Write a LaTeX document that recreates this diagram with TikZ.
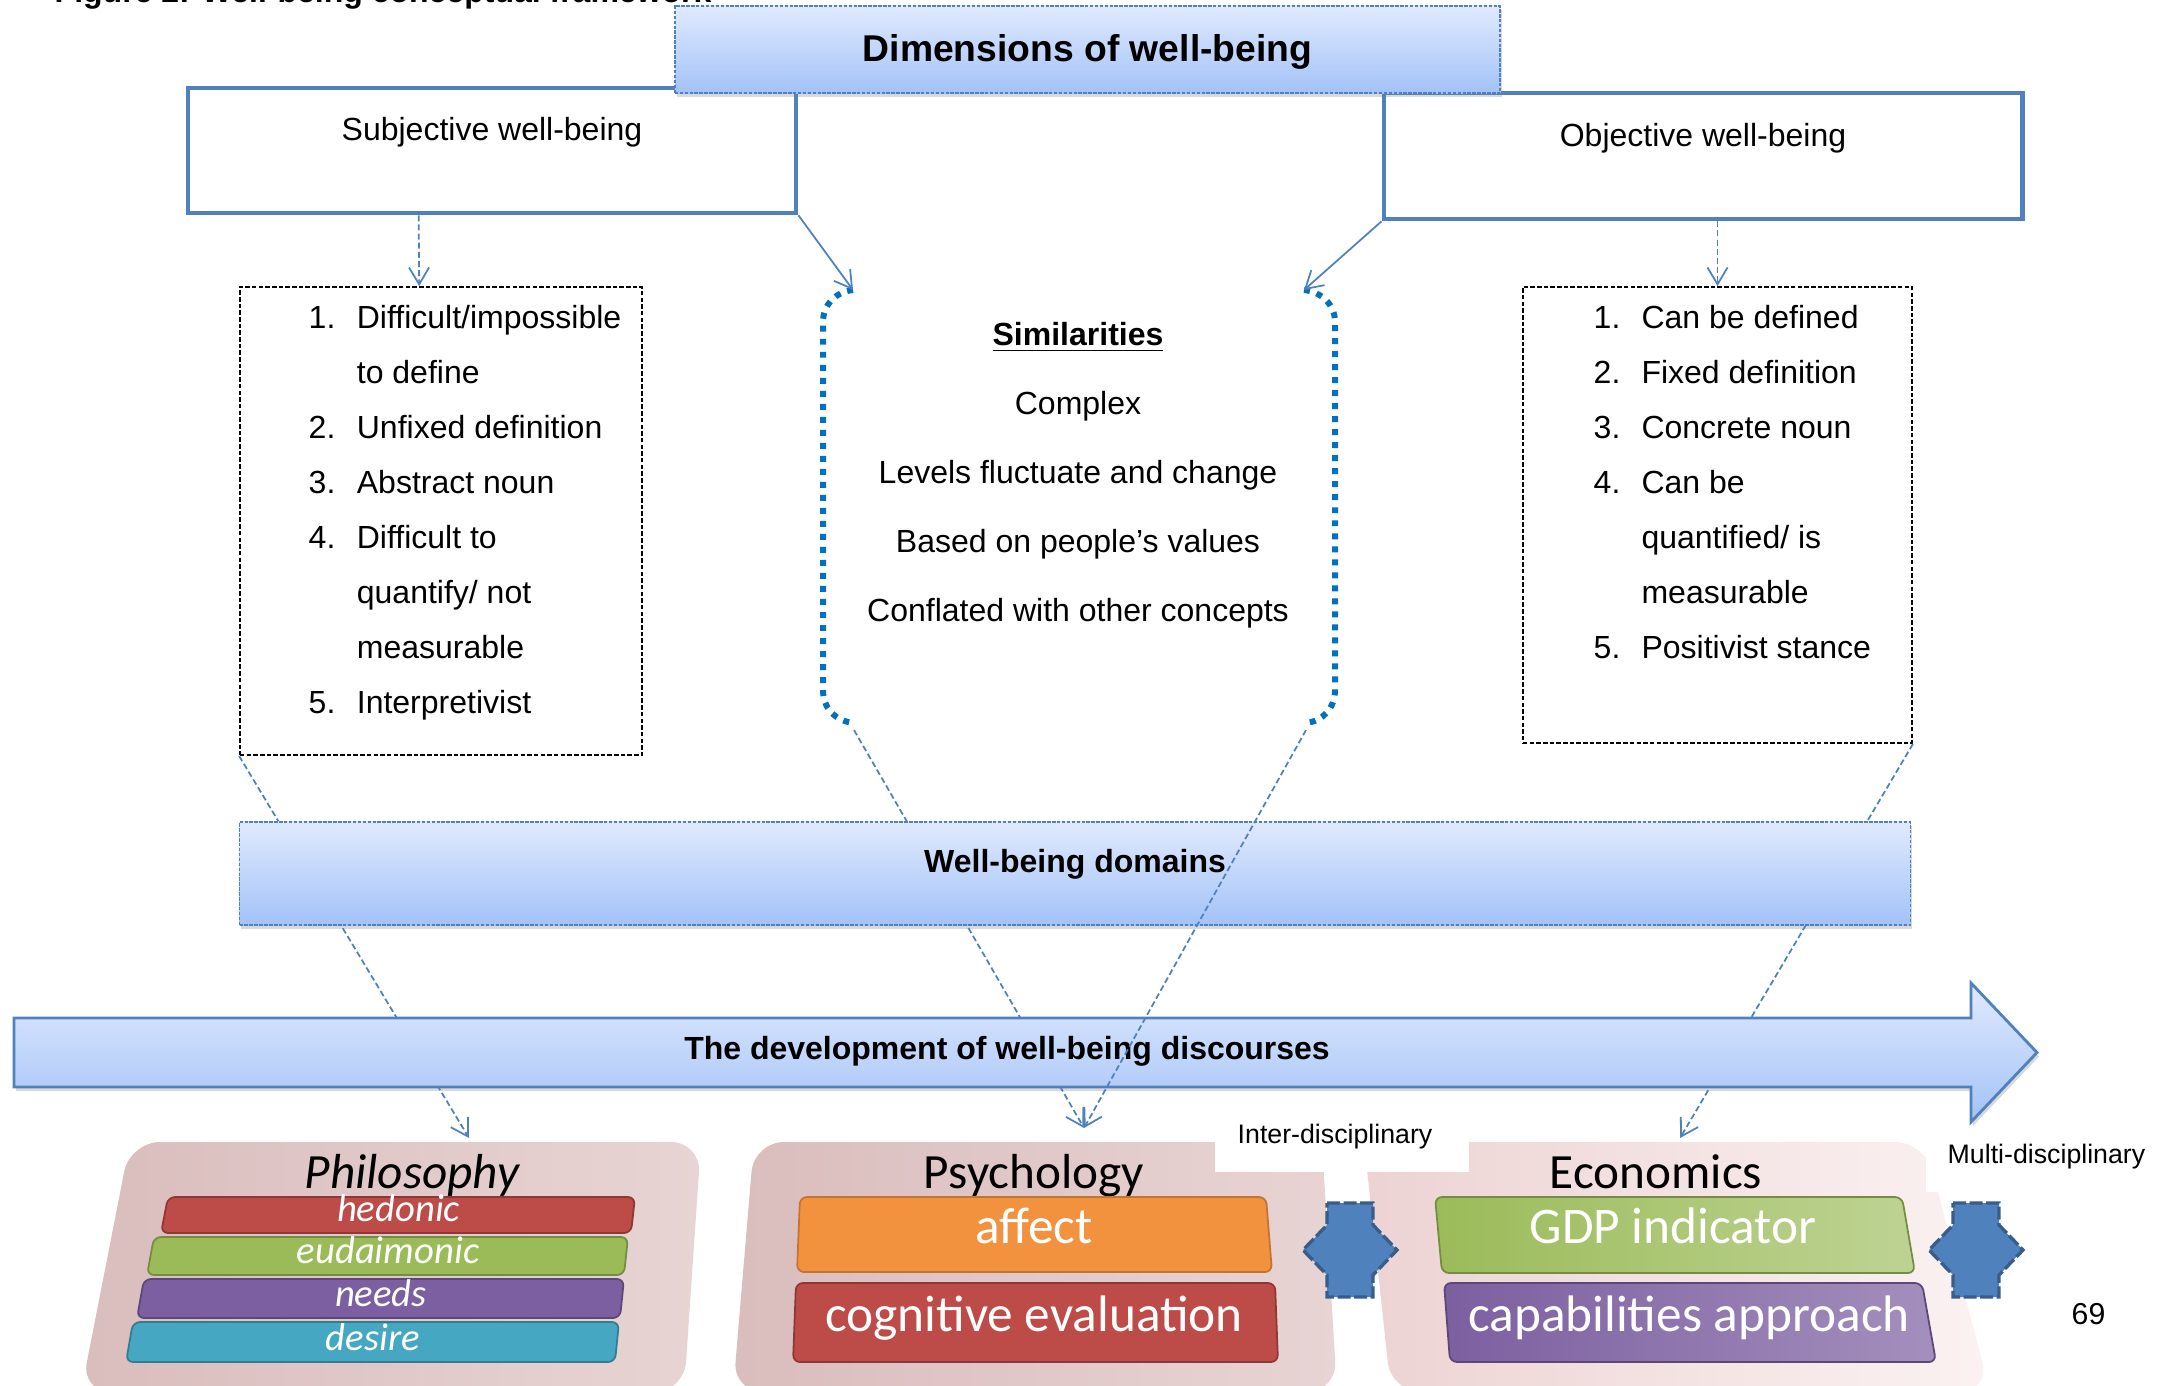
\documentclass[tikz,border=0pt]{standalone}
\usepackage{fontspec}
\setmainfont{Liberation Sans}
\newfontfamily\calibri{Carlito}
\usetikzlibrary{arrows.meta,shadows}

\definecolor{bleu}{HTML}{4F81BD}
\definecolor{bleufonce}{HTML}{385D8A}
\definecolor{bleupoint}{HTML}{0070C0}
\definecolor{clair}{HTML}{E0EAFD}
\definecolor{moyen}{HTML}{A3C2F8}
\definecolor{rouge}{HTML}{BD4B48}
\definecolor{vert}{HTML}{9BBB59}
\definecolor{violet}{HTML}{7C5FA0}
\definecolor{bleuvert}{HTML}{45A7C2}
\definecolor{orangec}{HTML}{F2923F}
\definecolor{rose}{HTML}{DABDBD}
\definecolor{rosepale}{HTML}{E8D4D4}
\definecolor{roseeco}{HTML}{EDD3D3}
\definecolor{roseblanc}{HTML}{FBF2F2}

\begin{document}
\begin{tikzpicture}[x=0.01cm, y=-0.01cm, every node/.style={inner sep=0pt}]
	\tikzset{texte/.style={font=\fontsize{9.1}{11}\selectfont}, gras/.style={font=\fontsize{9.1}{11}\selectfont\bfseries},
		petit/.style={font=\fontsize{7.6}{9}\selectfont}, calib/.style={font=\calibri\fontsize{14}{16}\selectfont},
		blanc/.style={text=white, font=\calibri\fontsize{14.6}{16}\selectfont},
		cadre/.style={draw=bleu, line width=1.3pt}, liste/.style={draw=black, line width=0.45pt, dash pattern=on 1.3pt off 0.6pt},
		degrade/.style={draw=bleu, line width=0.5pt, dash pattern=on 1pt off 0.4pt, top color=clair, bottom color=moyen, drop shadow={shadow xshift=0.5pt, shadow yshift=-1.2pt, opacity=0.3}},
		fleche/.style={draw=bleu, line width=0.5pt, -{Straight Barb[length=4.8pt, width=5.7pt]}}, tiret/.style={fleche, dash pattern=on 1.7pt off 0.9pt},
		pointille/.style={draw=bleupoint, line width=1.7pt, dash pattern=on 1.7pt off 2pt},
		panneau/.style={rounded corners=0.3cm}, barre/.style={rounded corners=2pt, line width=0.5pt},
		flechedouble/.style={fill=bleu, draw=bleufonce, line width=0.95pt, dash pattern=on 3.7pt off 1pt}};

	\useasboundingbox (0,0) rectangle (2161,1385);

	\node[gras, anchor=base west] (legende) at (54,3) {Figure 2: Well-being conceptual framework};

	\node[cadre, minimum width=6.08cm, minimum height=1.25cm] (subj) at ( 492, 150.5) {};
	\node[cadre, minimum width=6.38cm, minimum height=1.26cm] (obj)  at (1703, 156) {};
	\node[texte, anchor=base] (subjtxt) at ( 492, 141) {Subjective well-being};
	\node[texte, anchor=base] (objtxt)  at (1703, 147) {Objective well-being};

	\node[degrade, minimum width=8.25cm, minimum height=0.87cm] (dim) at (1087.5, 49.5) {};
	\node[anchor=base, font=\fontsize{10.6}{12}\selectfont\bfseries] (dimtxt) at (1087.5, 62) {Dimensions of well-being};

	\node[liste, minimum width=4.02cm, minimum height=4.68cm] (lsubj) at ( 441, 521) {};
	\node[liste, minimum width=3.89cm, minimum height=4.56cm] (lobj)  at (1717.5, 515) {};

	\node[anchor=base west, font=\fontsize{9.1}{15.65}\selectfont] (tsubj) at (308, 328.5) {\begin{tabular}[t]{@{}p{13.7pt}@{}l@{}}
		1. & Difficult/impossible\\ & to define\\ 2. & Unfixed definition\\ 3. & Abstract noun\\
		4. & Difficult to\\ & quantify/ not\\ & measurable\\ 5. & Interpretivist\end{tabular}};
	\node[anchor=base west, font=\fontsize{9.1}{15.65}\selectfont] (tobj) at (1593, 328.5) {\begin{tabular}[t]{@{}p{13.6pt}@{}l@{}}
		1. & Can be defined\\ 2. & Fixed definition\\ 3. & Concrete noun\\ 4. & Can be\\
		& quantified/ is\\ & measurable\\ 5. & Positivist stance\end{tabular}};

	\coordinate (simhg) at ( 853, 290);
	\coordinate (simbg) at ( 854, 723);
	\coordinate (simhd) at (1304, 290);
	\coordinate (simbd) at (1306, 723);
	\draw[pointille] (simhg) .. controls (835,292) and (823,305) .. (823,322) -- (823,690) .. controls (823,708) and (835,721) .. (simbg);
	\draw[pointille] (simhd) .. controls (1322,292) and (1335,305) .. (1335,322) -- (1335,690) .. controls (1335,708) and (1323,721) .. (simbd);
	\node[anchor=base, font=\fontsize{9.1}{19.6}\selectfont] (sim) at (1078, 345.5) {\begin{tabular}[t]{@{}c@{}}
		\underline{\textbf{Similarities}}\\ Complex\\ Levels fluctuate and change\\ Based on people’s values\\ Conflated with other concepts\end{tabular}};

	\draw[fleche] (subj.south east) -- (simhg);
	\draw[fleche] (obj.south west) -- (simhd);
	\draw[tiret] ([xshift=2.33cm]subj.south west) -- ([xshift=1.8cm]lsubj.north west);
	\draw[tiret] (obj.south -| lobj.north) -- (lobj.north);

	\coordinate (pphil) at ( 469, 1138);
	\coordinate (ppsy)  at (1084, 1128);
	\coordinate (peco)  at (1680, 1138);
	\draw[tiret] (lsubj.south west) -- (pphil);
	\draw[tiret] ([yshift=-2pt]simbg) -- (ppsy);
	\draw[tiret] (lobj.south east) -- (peco);

	\node[degrade, minimum width=16.7cm, minimum height=1.03cm] (dom) at (1075, 873.5) {};
	\node[gras, anchor=base] (domtxt) at (1075, 872) {Well-being domains};

	\path[degrade, solid, line width=0.8pt] (14,1018) -- (1971,1018) -- (1971,983) -- (2037,1052.5) -- (1971,1122) -- (1971,1087) -- (14,1087) -- cycle;
	\node[gras, anchor=base] (dev) at (1007, 1059) {The development of well-being discourses};

	\draw[tiret] ([yshift=-2pt]simbd) -- (ppsy);

	\path[panneau, left color=rose, right color=rosepale] (130,1142) -- (701,1142) -- (684,1392) -- (81,1392) -- cycle;
	\path[panneau, left color=rose, right color=rosepale] (754,1142) -- (1322,1142) -- (1337,1392) -- (733,1392) -- cycle;
	\path[panneau, left color=roseeco, right color=roseblanc] (1364,1142) -- (1925,1142) -- (1990,1392) -- (1391,1392) -- cycle;

	\node[calib, anchor=base, font=\calibri\itshape\fontsize{14}{16}\selectfont] (phil) at ( 412, 1188) {Philosophy};
	\node[calib, anchor=base] (psy) at (1034, 1188) {Psychology};
	\node[calib, anchor=base] (eco) at (1656, 1188) {Economics};

	\foreach \ya/\yb/\xa/\xb/\c/\t [count=\i] in {1197/1233/168/635/rouge/hedonic, 1237/1275/154/628/vert/eudaimonic, 1279/1318/144/624/violet/needs, 1322/1362/133/619/bleuvert/desire}{
		\path[barre, fill=\c, draw=\c!75!black] (\xa,\ya) -- (\xb,\ya) -- (\xb-4,\yb) -- (\xa-7,\yb) -- cycle;
		\node[anchor=base, text=white, font=\calibri\itshape\fontsize{11}{13}\selectfont] (b\i) at ({(\xa+\xb)/2-3}, \yb-12) {\t};
	}

	\path[barre, fill=orangec, draw=orangec!80!black] (800,1197) -- (1266,1197) -- (1272,1272) -- (797,1272) -- cycle;
	\path[barre, fill=rouge, draw=rouge!75!black] (796,1283) -- (1275,1283) -- (1278,1362) -- (793,1362) -- cycle;
	\path[barre, left color=vert, right color=vert!65!white, draw=vert!75!black] (1435,1197) -- (1902,1197) -- (1915,1273) -- (1442,1273) -- cycle;
	\path[barre, left color=violet, right color=violet!70!white, draw=violet!75!black] (1444,1283) -- (1922,1283) -- (1936,1362) -- (1450,1362) -- cycle;
	\node[blanc, anchor=base] (affect) at (1034, 1243) {affect};
	\node[blanc, anchor=base] (cogn)   at (1034, 1331) {cognitive evaluation};
	\node[blanc, anchor=base] (pib)    at (1673, 1243) {GDP indicator};
	\node[blanc, anchor=base] (capa)   at (1689, 1331) {capabilities approach};

	\fill[white] (1215,1100) rectangle (1469,1172);
	\fill[white] (1926,1126) rectangle (2161,1192);
	\node[petit, anchor=base west] (inter) at (1237, 1143) {Inter-disciplinary};
	\node[petit, anchor=base west] (multi) at (1947, 1163) {Multi-disciplinary};

	\foreach \x in {1327, 1953}
		\path[flechedouble, shift={(\x,0)}] (0,1203) -- (46,1203) -- (46,1225) -- (70,1250) -- (46,1275) -- (46,1297) -- (0,1297) -- (0,1275) -- (-24,1250) -- (0,1225) -- cycle;

	\node[anchor=base west, font=\fontsize{8.6}{10}\selectfont] (page) at (2071, 1324) {69};
\end{tikzpicture}
\end{document}
